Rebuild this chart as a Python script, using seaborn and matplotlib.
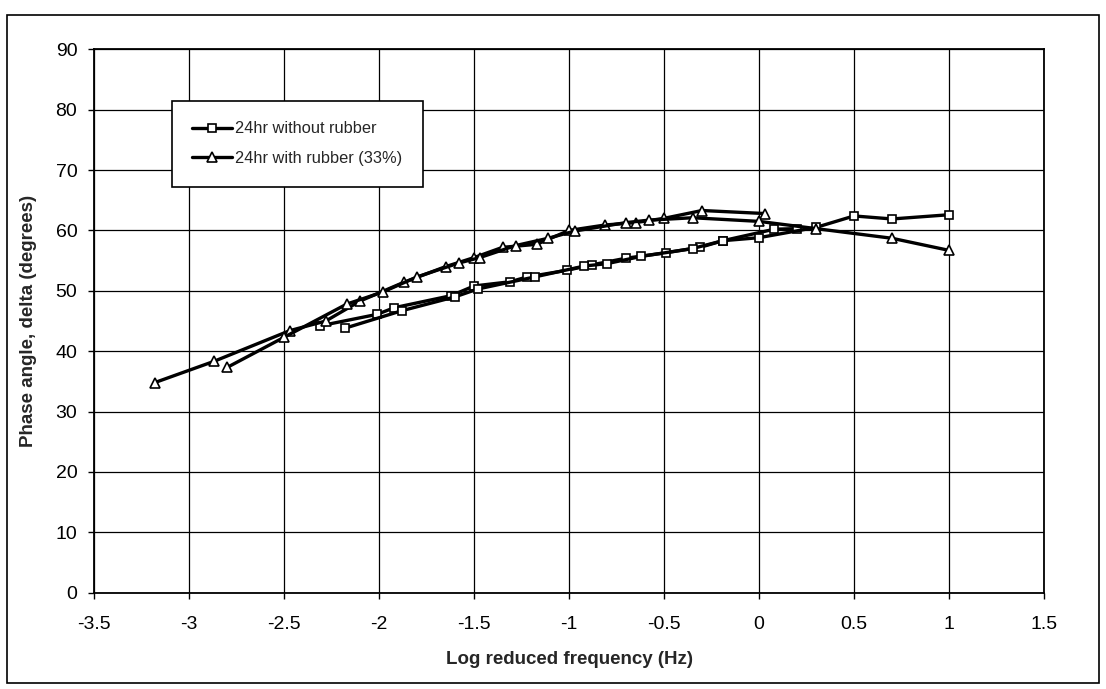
import matplotlib
matplotlib.use("Agg")
import matplotlib.pyplot as plt
import seaborn as sns
import pandas as pd
from matplotlib.patches import Rectangle

# ---- data ----
sq_label = "24hr without rubber"
tri_label = "24hr with rubber (33%)"

sq_seg_a_x = [-2.31, -2.01, -1.92, -1.62, -1.50, -1.31, -1.22, -1.01, -0.88, -0.70, -0.49, -0.31, -0.19, 0.08, 0.20]
sq_seg_a_y = [44.2, 46.1, 47.2, 49.2, 50.8, 51.5, 52.3, 53.4, 54.3, 55.4, 56.3, 57.2, 58.3, 60.2, 60.3]
sq_seg_b_x = [-2.18, -1.88, -1.60, -1.48, -1.18, -0.92, -0.80, -0.62, -0.35, -0.19, 0.00, 0.30, 0.50, 0.70, 1.00]
sq_seg_b_y = [43.8, 46.7, 49.0, 50.3, 52.3, 54.1, 54.5, 55.7, 57.0, 58.3, 58.8, 60.5, 62.4, 61.9, 62.6]

tri_seg_a_x = [-3.18, -2.87, -2.47, -2.28, -2.10, -1.87, -1.65, -1.50, -1.35, -1.17, -1.00, -0.81, -0.65, -0.50, -0.30, 0.03]
tri_seg_a_y = [34.8, 38.3, 43.4, 45.0, 48.3, 51.4, 54.0, 55.5, 57.2, 57.7, 60.0, 60.9, 61.3, 62.0, 63.3, 62.8]
tri_seg_b_x = [-2.80, -2.50, -2.17, -1.98, -1.80, -1.58, -1.47, -1.28, -1.11, -0.97, -0.70, -0.58, -0.35, 0.00, 0.30, 0.70, 1.00]
tri_seg_b_y = [37.3, 42.3, 47.8, 49.8, 52.3, 54.6, 55.5, 57.5, 58.7, 59.9, 61.3, 61.7, 62.1, 61.5, 60.3, 58.7, 56.7]

x_ticks = [-3.5, -3, -2.5, -2, -1.5, -1, -0.5, 0, 0.5, 1, 1.5]
x_tick_labels = ["-3.5", "-3", "-2.5", "-2", "-1.5", "-1", "-0.5", "0", "0.5", "1", "1.5"]
y_ticks = [0, 10, 20, 30, 40, 50, 60, 70, 80, 90]

def frame(xa, ya, xb, yb):
    return pd.DataFrame({
        "x": list(xa) + list(xb),
        "y": list(ya) + list(yb),
        "seg": ["a"] * len(xa) + ["b"] * len(xb),
    })

sq_df = frame(sq_seg_a_x, sq_seg_a_y, sq_seg_b_x, sq_seg_b_y)
tri_df = frame(tri_seg_a_x, tri_seg_a_y, tri_seg_b_x, tri_seg_b_y)

# ---- style ----
sns.set_theme(style="white")
plt.rcParams["font.family"] = ["Liberation Sans", "DejaVu Sans"]

fig = plt.figure(figsize=(11.06, 6.89), dpi=100)
ax = fig.add_axes([94 / 1106, 1 - 592.7 / 689, (1044 - 94) / 1106, (592.7 - 49.3) / 689])

common = dict(x="x", y="y", units="seg", estimator=None, sort=False, ax=ax,
              color="black", linewidth=2.4, markerfacecolor="white",
              markeredgecolor="black", markeredgewidth=1.2)
sns.lineplot(data=sq_df, marker="s", markersize=6, label=sq_label, **common)
sns.lineplot(data=tri_df, marker="^", markersize=6.5, label=tri_label, **common)

ax.set_xlim(-3.5, 1.5)
ax.set_ylim(0, 90)
ax.set_xticks(x_ticks)
ax.set_xticklabels(x_tick_labels)
ax.set_yticks(y_ticks)
ax.grid(True, color="black", linewidth=0.9)
ax.set_axisbelow(True)
for s in ax.spines.values():
    s.set_color("black")
    s.set_linewidth(1.3)
ax.tick_params(axis="both", which="major", labelsize=14, colors="black",
               direction="out", length=4, width=1, bottom=True, left=True)
ax.tick_params(axis="x", pad=13)
ax.tick_params(axis="y", pad=8)

ax.set_xlabel("Log reduced frequency (Hz)", fontsize=13.5, fontweight="bold", labelpad=13)
ax.set_ylabel("Phase angle, delta (degrees)", fontsize=13.5, fontweight="bold", labelpad=13)

# legend (dedupe)
handles, labels = ax.get_legend_handles_labels()
seen = {}
for h, l in zip(handles, labels):
    if l not in seen:
        seen[l] = h
leg = ax.legend(list(seen.values()), list(seen.keys()), loc="upper left",
                bbox_to_anchor=(172 / 1106, 1 - 101 / 689), bbox_transform=fig.transFigure,
                fontsize=11.8, frameon=True, fancybox=False, edgecolor="black",
                framealpha=1, borderaxespad=0, handlelength=2.4, handletextpad=0.2,
                labelspacing=0.9, borderpad=1.25)
leg.get_frame().set_linewidth(1.2)

# outer chart-area border
fig.patches.append(Rectangle((7 / 1106, 1 - 683 / 689), (1099 - 7) / 1106, (683 - 15) / 689,
                             transform=fig.transFigure, fill=False, edgecolor="black",
                             linewidth=1.2))

fig.savefig("out.png", dpi=100, facecolor="white")
